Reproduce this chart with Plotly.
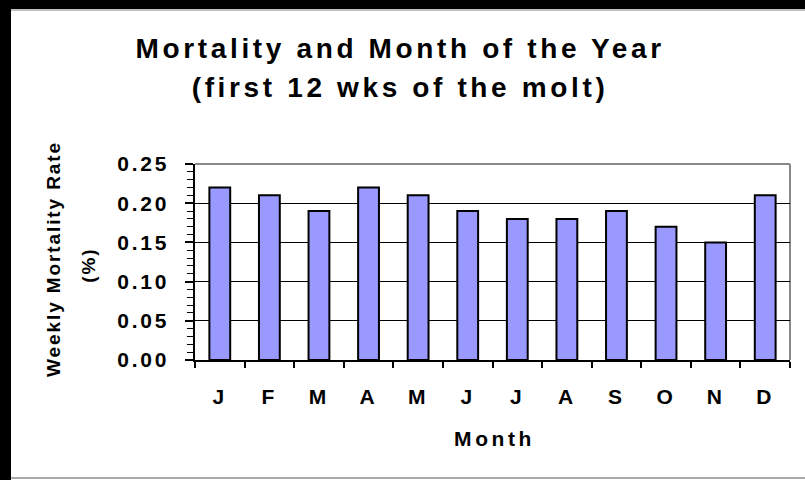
import plotly.graph_objects as go

months = ["Jan", "Feb", "Mar", "Apr", "May", "Jun", "Jul", "Aug", "Sep", "Oct", "Nov", "Dec"]
month_labels = ["J", "F", "M", "A", "M", "J", "J", "A", "S", "O", "N", "D"]
mortality = [0.22, 0.21, 0.19, 0.22, 0.21, 0.19, 0.18, 0.18, 0.19, 0.17, 0.15, 0.21]
y_ticks = [0.00, 0.05, 0.10, 0.15, 0.20, 0.25]
y_ticktext = ["0.00", "0.05", "0.10", "0.15", "0.20", "0.25"]

W, H = 805, 480
L, R, T, B = 195, 790, 164, 360
pw, ph = R - L, B - T


def px(p):
    return (p - L) / pw


def py(p):
    return (B - p) / ph


FONT = "Liberation Sans, Arial, sans-serif"

idx = list(range(len(months)))

fig = go.Figure(
    go.Bar(
        x=idx,
        y=mortality,
        width=0.42,
        marker=dict(color="#9999FF", line=dict(color="black", width=2)),
        hovertext=months,
    )
)

fig.update_layout(
    width=W,
    height=H,
    margin=dict(l=L, r=W - R, t=T, b=H - B, pad=0),
    paper_bgcolor="white",
    plot_bgcolor="white",
    showlegend=False,
    font=dict(family=FONT, color="black"),
)

fig.update_xaxes(
    range=[-0.5, len(months) - 0.5],
    tickmode="array",
    tickvals=idx,
    ticktext=month_labels,
    ticks="",
    ticklabelstandoff=17,
    tickfont=dict(size=21, weight="bold", family=FONT),
    showgrid=False,
    showline=True,
    linecolor="black",
    linewidth=1.5,
    zeroline=False,
    minor=dict(tick0=-0.5, dtick=1, ticks="outside", ticklen=6, tickcolor="black", tickwidth=1.5, showgrid=False),
)

fig.update_yaxes(
    range=[0, 0.25],
    tickmode="array",
    tickvals=y_ticks,
    ticktext=y_ticktext,
    ticks="outside",
    ticklen=8,
    tickwidth=1.5,
    tickcolor="black",
    ticklabelstandoff=12,
    tickfont=dict(size=21, weight="bold", family=FONT),
    showgrid=True,
    gridcolor="black",
    gridwidth=1,
    showline=True,
    linecolor="black",
    linewidth=1.5,
    zeroline=False,
    minor=dict(tick0=0, dtick=0.01, ticks="outside", ticklen=6, tickcolor="black", tickwidth=1, showgrid=False),
)

shapes = [
    # plot-area border (grey) on top / right
    dict(type="line", xref="paper", yref="paper", x0=0, x1=1, y0=1, y1=1,
         line=dict(color="#888888", width=2), layer="between"),
    dict(type="line", xref="paper", yref="paper", x0=1, x1=1, y0=0, y1=1,
         line=dict(color="#888888", width=2), layer="between"),
    # outer frame: thick black top and left, grey bottom
    dict(type="rect", xref="paper", yref="paper", x0=px(0), x1=px(W), y0=py(0), y1=py(9),
         fillcolor="black", line=dict(width=0), layer="above"),
    dict(type="rect", xref="paper", yref="paper", x0=px(0), x1=px(11), y0=py(0), y1=py(H),
         fillcolor="black", line=dict(width=0), layer="above"),
    dict(type="line", xref="paper", yref="paper", x0=px(11), x1=px(W), y0=py(10), y1=py(10),
         line=dict(color="#aaaaaa", width=1.5), layer="above"),
    dict(type="line", xref="paper", yref="paper", x0=px(11), x1=px(W), y0=py(478), y1=py(478),
         line=dict(color="#aaaaaa", width=2), layer="above"),
]

annotations = [
    dict(text="Mortality and Month of the Year", xref="paper", yref="paper",
         x=px(400), y=py(48), xanchor="center", yanchor="middle", showarrow=False,
         font=dict(size=28, weight="bold", family=FONT)),
    dict(text="(first 12 wks of the molt)", xref="paper", yref="paper",
         x=px(400), y=py(87), xanchor="center", yanchor="middle", showarrow=False,
         font=dict(size=28, weight="bold", family=FONT)),
    dict(text="Weekly Mortality Rate", xref="paper", yref="paper",
         x=px(53), y=py(259), xanchor="center", yanchor="middle", showarrow=False,
         textangle=-90, font=dict(size=19, weight="bold", family=FONT)),
    dict(text="(%)", xref="paper", yref="paper",
         x=px(88), y=py(265), xanchor="center", yanchor="middle", showarrow=False,
         textangle=-90, font=dict(size=19, weight="bold", family=FONT)),
    dict(text="Month", xref="paper", yref="paper",
         x=px(494), y=py(438), xanchor="center", yanchor="middle", showarrow=False,
         font=dict(size=21, weight="bold", family=FONT)),
]

fig.update_layout(shapes=shapes, annotations=annotations)

post = """
document.body.style.margin = '0';
var gd = document.getElementById('{plot_id}');
var ann = gd.querySelectorAll('.annotation-text');
ann.forEach(function(t){
  var s = t.textContent;
  var ls = '0.13em';
  if (s === 'Weekly Mortality Rate' || s === '(%)') ls = '0.10em';
  if (s === 'Month') ls = '0.17em';
  t.style.letterSpacing = ls;
});
gd.querySelectorAll('.xtick text, .ytick text').forEach(function(t){ t.style.letterSpacing = '0.13em'; });
"""

fig.write_html("out.html", post_script=post, config={"displayModeBar": False})
